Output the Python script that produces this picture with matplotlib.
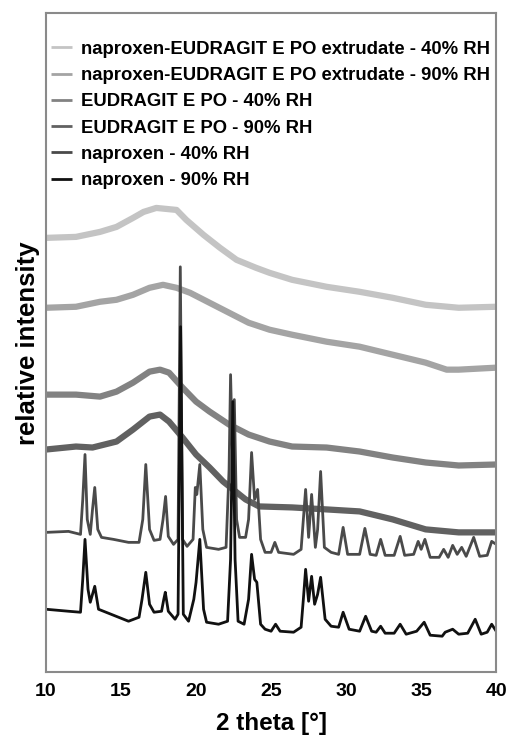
import matplotlib as mpl
mpl.use('Agg')
import matplotlib.pyplot as plt

# values, intensity in arbitrary units
labels = ['naproxen-EUDRAGIT E PO extrudate - 40% RH',
          'naproxen-EUDRAGIT E PO extrudate - 90% RH',
          'EUDRAGIT E PO - 40% RH',
          'EUDRAGIT E PO - 90% RH',
          'naproxen - 40% RH',
          'naproxen - 90% RH']
colors = ['#c4c4c4', '#a4a4a4', '#828282', '#616161', '#4a4a4a', '#111111']

ext40_x = [10, 12.0, 13.6, 14.7, 15.8, 16.5, 17.35, 18.7, 19.35, 20.5, 21.6, 22.7,
           24.0, 24.9, 26.4, 28.7, 30.9, 33.1, 35.3, 37.5, 40]
ext40_y = [435, 436, 441, 446, 455, 461, 465, 463, 453, 438, 425, 413,
           405, 400, 393, 386, 381, 375, 368, 365, 366]

ext90_x = [10, 12.0, 13.6, 14.7, 15.8, 16.9, 17.8, 18.7, 19.6, 20.9, 22.2, 23.5,
           24.9, 26.4, 28.7, 30.9, 33.1, 35.3, 36.7, 37.5, 40]
ext90_y = [365, 366, 371, 373, 378, 385, 388, 385, 380, 370, 360, 350,
           343, 338, 331, 326, 318, 310, 303, 303, 305]

eud40_x = [10, 12.0, 13.6, 14.7, 15.8, 16.9, 17.6, 18.2, 19.1, 20.0, 20.9, 22.2,
           23.5, 24.9, 26.4, 28.7, 30.9, 33.1, 35.3, 37.5, 40]
eud40_y = [278, 278, 276, 281, 290, 301, 303, 300, 285, 271, 261, 248,
           238, 231, 226, 225, 221, 215, 210, 207, 208]

eud90_x = [10, 12.0, 13.1, 14.7, 15.8, 16.9, 17.6, 18.2, 19.1, 20.0, 20.9, 21.8,
           23.3, 24.2, 26.4, 28.7, 30.9, 33.1, 35.3, 37.5, 40]
eud90_y = [223, 226, 225, 231, 243, 256, 258, 251, 235, 218, 205, 191,
           173, 166, 165, 163, 161, 153, 143, 140, 140]

nap40_x = [10.0, 11.5, 12.3, 12.45, 12.6, 12.75, 12.95, 13.1, 13.25, 13.45, 13.7, 14.5,
           15.5, 16.2, 16.45, 16.65, 16.9, 17.2, 17.6, 17.8, 17.97, 18.15, 18.5, 18.8,
           18.95, 19.1, 19.4, 19.8, 19.95, 20.05, 20.25, 20.45, 20.7, 21.5, 22.0, 22.2,
           22.3, 22.42, 22.55, 22.7, 22.9, 23.3, 23.5, 23.7, 23.9, 24.1, 24.3, 24.6,
           25.0, 25.25, 25.5, 26.5, 27.0, 27.15, 27.3, 27.5, 27.7, 27.95, 28.1, 28.3,
           28.55, 29.0, 29.5, 29.8, 30.1, 30.9, 31.25, 31.6, 32.0, 32.3, 32.6, 33.2,
           33.6, 33.9, 34.5, 34.8, 35.0, 35.25, 35.6, 36.2, 36.5, 36.8, 37.1, 37.4,
           37.7, 38.0, 38.5, 38.9, 39.4, 39.7, 40.0]
nap40_y = [140, 141, 138, 173, 218, 153, 138, 163, 185, 143, 135, 133,
           130, 130, 153, 208, 143, 132, 133, 153, 176, 136, 128, 133,
           406, 133, 126, 133, 185, 178, 208, 143, 125, 123, 125, 203,
           298, 223, 273, 153, 135, 135, 153, 220, 173, 183, 133, 120,
           120, 130, 120, 118, 123, 153, 183, 135, 178, 125, 143, 201,
           125, 120, 118, 145, 118, 118, 144, 118, 117, 133, 117, 117,
           136, 117, 118, 131, 123, 133, 115, 115, 123, 115, 127, 118,
           125, 116, 135, 116, 117, 131, 128]

nap90_x = [10.0, 11.5, 12.3, 12.45, 12.6, 12.8, 12.95, 13.1, 13.25, 13.5, 14.0, 15.5,
           16.2, 16.4, 16.65, 16.9, 17.2, 17.7, 17.85, 17.95, 18.15, 18.6, 18.8, 18.97,
           19.15, 19.5, 19.85, 20.0, 20.25, 20.5, 20.7, 21.5, 22.1, 22.3, 22.45, 22.6,
           22.8, 23.2, 23.5, 23.7, 23.9, 24.05, 24.3, 24.6, 25.0, 25.3, 25.6, 26.5,
           27.0, 27.15, 27.3, 27.5, 27.7, 27.9, 28.1, 28.3, 28.6, 29.0, 29.5, 29.8,
           30.2, 30.9, 31.3, 31.7, 32.0, 32.3, 32.6, 33.2, 33.6, 34.0, 34.7, 35.2,
           35.6, 36.4, 36.6, 37.1, 37.5, 38.1, 38.6, 39.0, 39.4, 39.7, 40.0]
nap90_y = [63, 61, 60, 93, 133, 83, 70, 78, 86, 63, 60, 51,
           55, 73, 100, 68, 60, 61, 73, 80, 61, 53, 58, 346,
           58, 51, 73, 90, 133, 63, 50, 48, 51, 113, 271, 113,
           51, 48, 73, 118, 93, 90, 48, 43, 41, 48, 41, 40,
           45, 73, 103, 71, 96, 68, 78, 95, 53, 46, 45, 60,
           43, 41, 56, 41, 40, 46, 39, 39, 48, 38, 41, 50,
           37, 36, 40, 43, 38, 39, 53, 38, 40, 48, 41]

series_x = [ext40_x, ext90_x, eud40_x, eud90_x, nap40_x, nap90_x]
series_y = [ext40_y, ext90_y, eud40_y, eud90_y, nap40_y, nap90_y]
widths = [4.5, 4.5, 4.5, 4.5, 2.0, 2.0]

plt.rcParams['font.family'] = ['Liberation Sans', 'DejaVu Sans']
plt.rcParams['font.weight'] = 'bold'

fig = plt.figure(figsize=(5.07, 7.37), dpi=100)
ax = fig.add_axes([0.0907, 0.088, 0.888, 0.894])

for xs, ys, c, lw, lab in zip(series_x, series_y, colors, widths, labels):
    ax.plot(xs, ys, color=c, lw=lw, label=lab,
            solid_joinstyle='round', solid_capstyle='butt')

ax.set_xlim(10, 40)
ax.set_ylim(0, 660)
ax.set_xticks([10, 15, 20, 25, 30, 35, 40])
ax.set_yticks([])
ax.tick_params(axis='x', length=0, pad=8, labelsize=14)
for sp in ax.spines.values():
    sp.set_color('#8a8a8a')
    sp.set_linewidth(1.5)

ax.set_xlabel('2 theta [°]', fontsize=17.5, fontweight='bold', labelpad=8.5)
ax.set_ylabel('relative intensity', fontsize=18.5, fontweight='bold', labelpad=4.5)

leg = ax.legend(loc='upper left', bbox_to_anchor=(0.012, 0.958), frameon=False,
                fontsize=13.3, handlelength=1.13, handletextpad=0.5,
                labelspacing=0.5, borderaxespad=0, borderpad=0)
for h in leg.get_lines():
    h.set_linewidth(2)

fig.savefig('out.png', dpi=100)
